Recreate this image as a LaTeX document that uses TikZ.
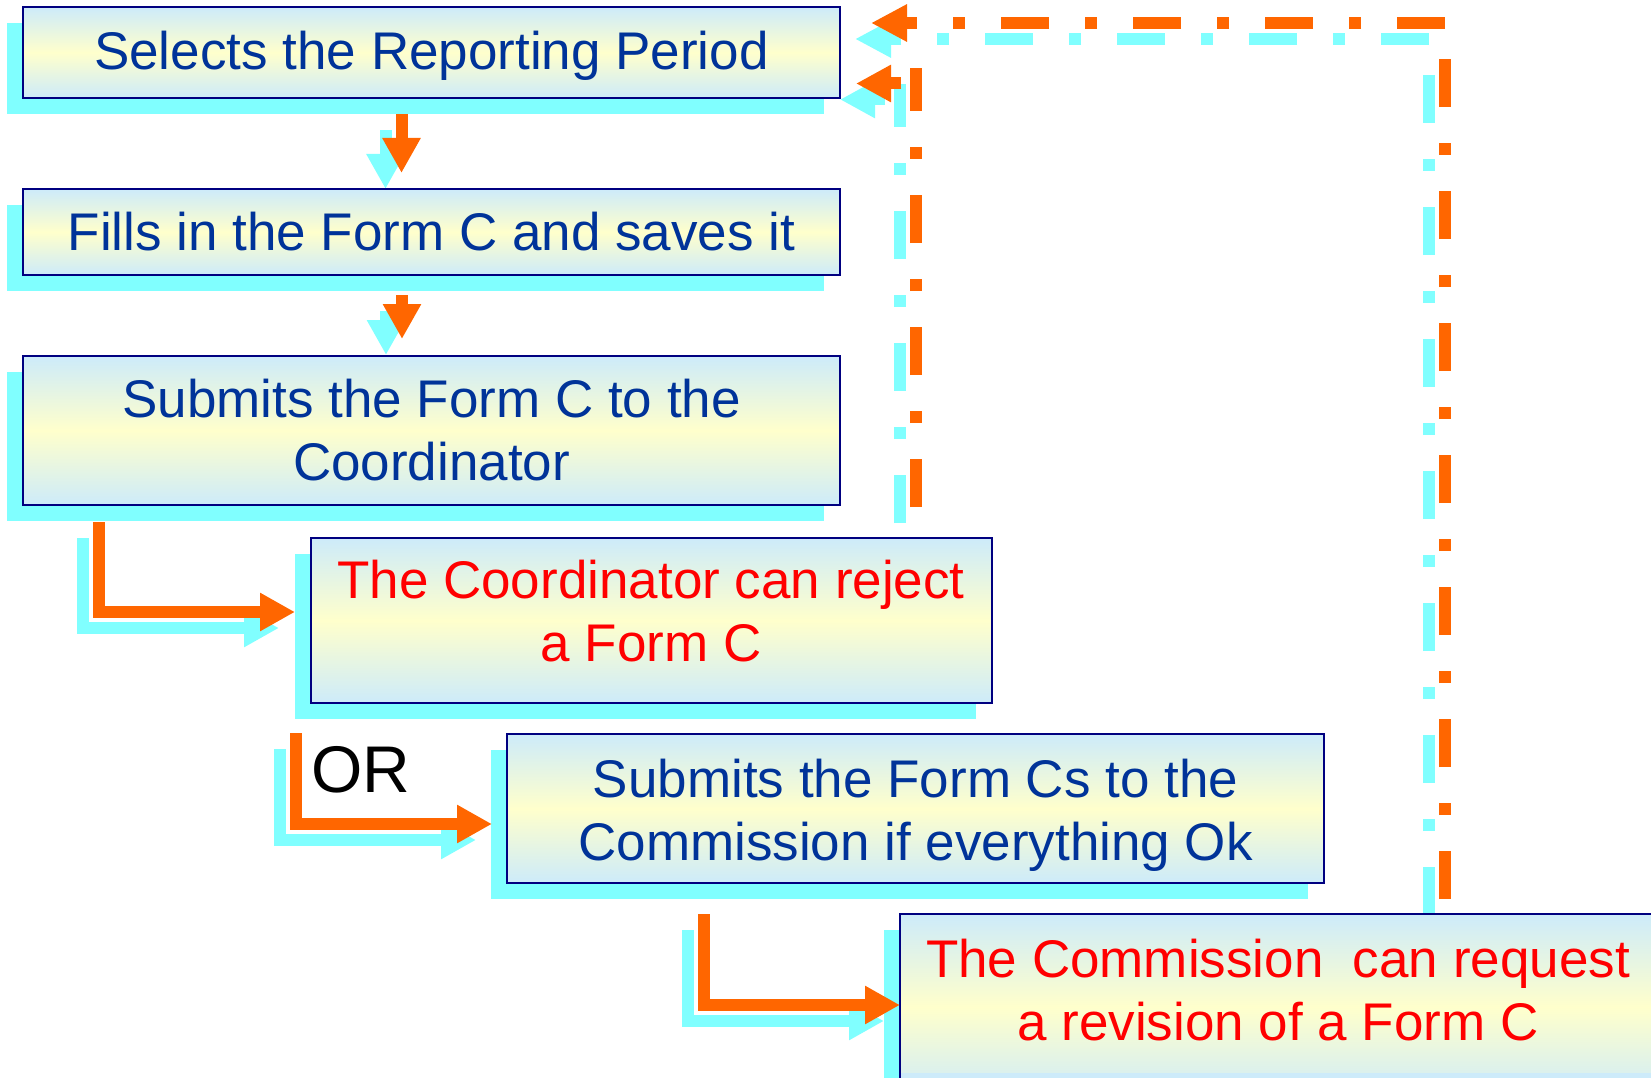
\documentclass[tikz,border=0pt]{standalone}
\usepackage{fontspec}
\setmainfont{Liberation Sans}
\usetikzlibrary{arrows.meta}
\definecolor{orangeA}{RGB}{255,102,0}
\definecolor{shcyan}{RGB}{128,255,255}
\definecolor{navyb}{RGB}{0,0,128}
\definecolor{txtblue}{RGB}{0,51,153}
\definecolor{boxblue}{RGB}{205,235,250}
\definecolor{boxyellow}{RGB}{255,255,204}
\definecolor{redtxt}{RGB}{255,0,0}
\pgfdeclarelayer{background}
\pgfsetlayers{background,main}
\tikzset{
  flowbox/.style={draw=navyb, line width=2pt, top color=boxblue, bottom color=boxblue,
    middle color=boxyellow, inner sep=0pt, outer sep=0pt, align=center,
    font=\fontsize{53}{63}\selectfont, text=txtblue, anchor=north west},
  boxtext/.style={align=center, inner sep=0pt, font=\fontsize{53}{63}\selectfont},
  flowarrow/.style={line width=12pt, -{Triangle[length=35pt,width=36pt]}},
  feedline/.style={line width=12pt},
  dashA/.style={dash pattern=on 48pt off 36pt on 12pt off 36pt},
}
\newcommand{\flowlinks}[1]{%
  \draw[flowarrow,#1,shorten <=16pt,shorten >=16pt] (a1s) -- (a1s |- b2.north);
  \draw[flowarrow,#1,shorten <=20pt,shorten >=17pt] (a2s) -- (a2s |- b3.north);
  \draw[flowarrow,#1,shorten <=17pt,shorten >=16pt] (a3s) |- (a3e);
  \draw[flowarrow,#1,shorten <=30pt,shorten >=15pt] (a4s) |- (a4e);
  \draw[flowarrow,#1,shorten <=31pt] (a5s) |- (a5e);
  \draw[feedline,#1,dashA,dash phase=117pt] (f1s) -- (f1c);
  \draw[feedline,#1,dashA,-{Triangle[length=36pt,width=35pt]},shorten >=31pt] (f1c) -- (f1c -| b1.east);
  \draw[feedline,#1,dashA,dash phase=101pt] (f2s) -- (f2t);
  \draw[feedline,#1,dashA,dash phase=117pt,-{Triangle[length=35pt,width=35pt]},shorten >=16pt] (f2c) -- (f2e);
}
\begin{document}
\begin{tikzpicture}[x=1pt,y=-1pt]
\useasboundingbox (0,0) rectangle (1651,1078);

\node[flowbox, minimum width=817pt, minimum height=91pt, text depth=5pt] (b1) at (23,7) {Selects the Reporting Period};
\node[flowbox, minimum width=817pt, minimum height=86pt] (b2) at (23,189) {Fills in the Form C and saves it};
\node[flowbox, minimum width=817pt, minimum height=149pt] (b3) at (23,356) {Submits the Form C to the\\Coordinator};
\node[flowbox, minimum width=681pt, minimum height=165pt] (b4) at (311,538) {};
\node[boxtext, text=redtxt] (b4t) at (651,611) {The Coordinator can reject\\a Form C};
\node[flowbox, minimum width=817pt, minimum height=149pt] (b5) at (507,734) {};
\node[boxtext, text=txtblue] (b5t) at (915.5,815) {Submits the Form Cs to the\\Commission if everything Ok};
\node[draw=navyb, line width=2pt, fill=boxblue, inner sep=0pt, outer sep=0pt, anchor=north west,
  minimum width=760pt, minimum height=186pt,
  path picture={\shade[top color=boxblue,bottom color=boxblue,middle color=boxyellow]
    (path picture bounding box.north west) rectangle ([yshift=-158pt]path picture bounding box.north east);}]
  (b6) at (900,914) {};
\node[boxtext, text=redtxt] (b6t) at (1278,990)
  {The Commission~ can request\\a revision of a Form C};

\node[font=\fontsize{66}{70}\selectfont, anchor=base, inner sep=0pt] (ortext) at (361,792) {OR};

\coordinate (a1s) at ([xshift=-30pt]b1.south);
\coordinate (a2s) at ([xshift=-29.5pt]b2.south);
\coordinate (a3s) at ([xshift=76pt]b3.south west);
\coordinate (a3e) at ([yshift=8.5pt]b4.west);
\coordinate (a4s) at ([xshift=-15pt]b4.south west);
\coordinate (a4e) at ([yshift=-15.5pt]b5.west);
\coordinate (a5s) at ([xshift=197pt]b5.south west);
\coordinate (a5e) at ([yshift=2pt]b6.west);
\coordinate (f1s) at ([xshift=545pt]b6.north west);
\coordinate (f1c) at (f1s |- 0,23);
\coordinate (f2s) at ([xshift=605pt]b4.north west);
\coordinate (f2t) at (f2s |- 0,68);
\coordinate (f2e) at ([yshift=-31pt]b1.east);
\coordinate (f2c) at (f2s |- f2e);

\begin{pgfonlayer}{background}
  \begin{scope}[transform canvas={shift={(-16pt,-16pt)}}]
    \foreach \bx in {b1,b2,b3,b4,b5,b6}{
      \fill[shcyan] (\bx.south west) rectangle (\bx.north east);
    }
    \flowlinks{shcyan}
  \end{scope}
\end{pgfonlayer}

\flowlinks{orangeA}
\end{tikzpicture}
\end{document}
